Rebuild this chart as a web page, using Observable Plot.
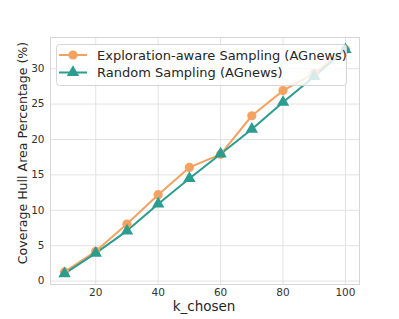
<!DOCTYPE html>
<html><head><meta charset="utf-8">
<script src="https://cdn.jsdelivr.net/npm/d3@7"></script>
<script src="https://cdn.jsdelivr.net/npm/@observablehq/plot@0.6"></script>
<style>body{margin:0;background:#fff;} svg{font-family:"DejaVu Sans",sans-serif;}</style>
</head><body><div id="chart"></div>
<script>
const kChosen = [10,20,30,40,50,60,70,80,90,100];
const exploration = [1.3,4.2,8.05,12.2,16.05,17.9,23.35,26.9,29.35,32.7];
const random = [1.05,3.95,7.1,10.9,14.5,17.95,21.45,25.25,28.9,32.7];
const seriesNames = ["Exploration-aware Sampling (AGnews)","Random Sampling (AGnews)"];
const colors = ["#f4a261","#2a9d8f"];
const yTicks = [0,5,10,15,20,25,30];
const xTicks = [20,40,60,80,100];

const data = [];
kChosen.forEach((k,i)=>{
  data.push({k, v: exploration[i], s: seriesNames[0]});
  data.push({k, v: random[i], s: seriesNames[1]});
});

const plot = Plot.plot({
  width: 399, height: 319,
  marginLeft: 50, marginRight: 40, marginTop: 37, marginBottom: 35,
  x: {domain: [5.5, 104.5], ticks: xTicks},
  y: {domain: [-0.48, 34.4], ticks: yTicks},
  color: {domain: seriesNames, range: colors},
  style: {fontFamily: "DejaVu Sans", fontSize: "10.5px", color: "#333"},
  marks: [
    Plot.gridX(xTicks, {stroke: "#e2e2e2", strokeOpacity: 1, strokeWidth: 1}),
    Plot.gridY(yTicks, {stroke: "#e2e2e2", strokeOpacity: 1, strokeWidth: 1}),
    Plot.frame({stroke: "#d6d6d6"}),
    Plot.axisX({ticks: xTicks, tickSize: 0, tickPadding: 4, label: null}),
    Plot.axisY({ticks: yTicks, tickSize: 0, tickPadding: 6, label: null}),
    Plot.line(data, {x: "k", y: "v", z: "s", stroke: "s", strokeWidth: 2}),
    Plot.dot(data.filter(d=>d.s===seriesNames[0]), {x: "k", y: "v", fill: "s", r: 4.6, symbol: "circle"}),
    Plot.dot(data.filter(d=>d.s===seriesNames[1]), {x: "k", y: "v", fill: "s", r: 4.6, symbol: "triangle"})
  ]
});
document.getElementById("chart").appendChild(plot);

const svg = d3.select(plot);
// axis labels
svg.append("text").attr("x", 204).attr("y", 311).attr("text-anchor","middle")
  .style("font-size","13.5px").attr("fill","#262626").text("k_chosen");
svg.append("text").attr("transform","translate(27,153) rotate(-90)").attr("text-anchor","middle")
  .style("font-size","12.6px").attr("fill","#262626").text("Coverage Hull Area Percentage (%)");
// legend
const lg = svg.append("g").attr("text-anchor","start");
lg.append("rect").attr("x",56.5).attr("y",44.5).attr("width",290).attr("height",41).attr("rx",3)
  .attr("fill","#fff").attr("fill-opacity",0.8).attr("stroke","#d6d6d6");
const sym = [d3.symbol(d3.symbolCircle, Math.PI*4.6*4.6), d3.symbol(d3.symbolTriangle, Math.PI*4.6*4.6)];
seriesNames.forEach((n,i)=>{
  const y = 55 + i*17.5;
  lg.append("line").attr("x1",59).attr("x2",87).attr("y1",y).attr("y2",y).attr("stroke",colors[i]).attr("stroke-width",2);
  lg.append("path").attr("d", sym[i]()).attr("transform",`translate(73,${y})`).attr("fill",colors[i]);
  lg.append("text").attr("x",97).attr("y",y).attr("dy","0.35em").attr("text-anchor","start")
    .style("font-size","13px").attr("fill","#262626").text(n);
});
</script></body></html>
